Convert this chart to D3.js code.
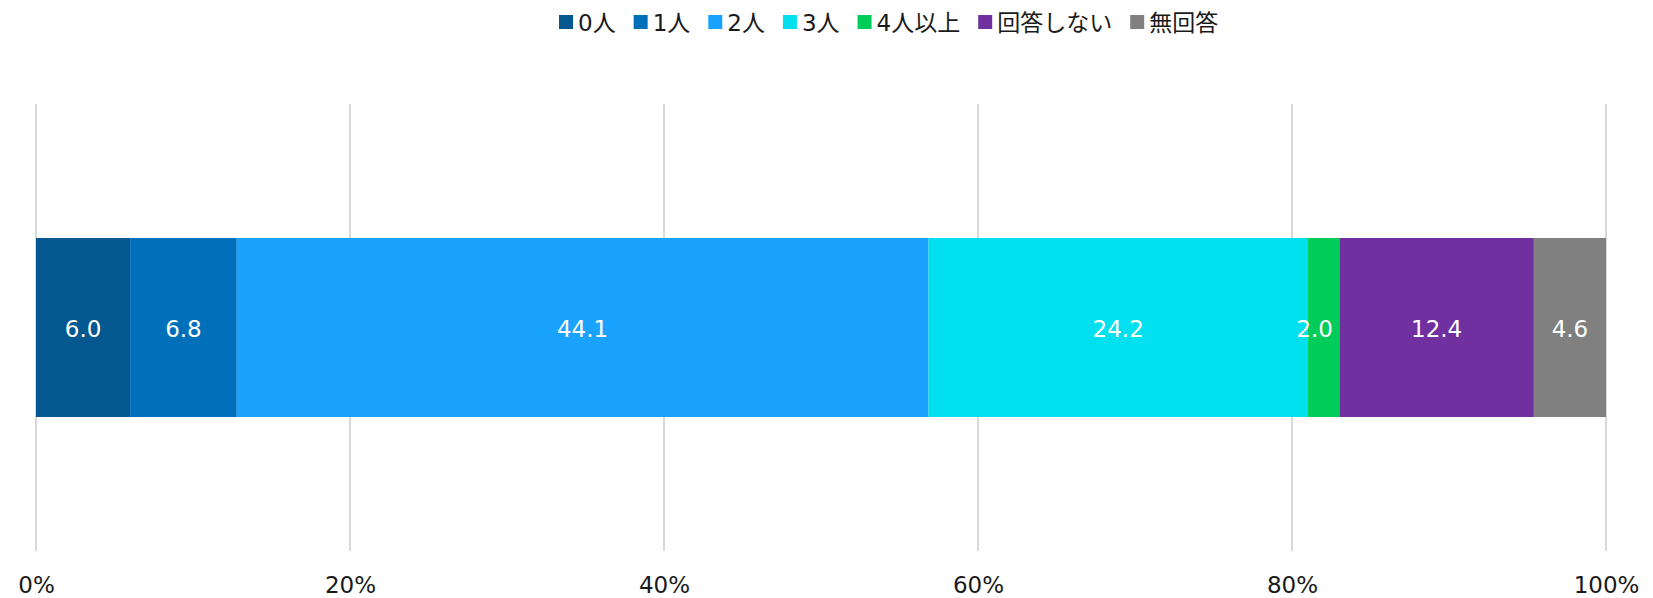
<!DOCTYPE html>
<html>
<head>
<meta charset="utf-8">
<script src="https://cdn.jsdelivr.net/npm/d3@7"></script>
<style>
  html, body { margin: 0; padding: 0; background: #ffffff; }
  svg { display: block; }
  text { font-family: "DejaVu Sans", "Noto Sans CJK JP", sans-serif; }
</style>
</head>
<body>
<svg id="chart" width="1653" height="598"></svg>
<script>
// ---- data ----
const categories = ["0人", "1人", "2人", "3人", "4人以上", "回答しない", "無回答"];
const values = [6.0, 6.8, 44.1, 24.2, 2.0, 12.4, 4.6];
const colors = ["#03598f", "#0070bb", "#1aa3fe", "#00e0ef", "#00cc5a", "#7030a0", "#808080"];
const tickValues = [0, 0.2, 0.4, 0.6, 0.8, 1.0];
const tickLabels = ["0%", "20%", "40%", "60%", "80%", "100%"];

// ---- layout ----
const svg = d3.select("#chart");
const W = 1653, H = 598;
const margin = { left: 36, right: 47, top: 104, bottom: 47 };
const plotW = W - margin.left - margin.right;
const barTop = 238, barBottom = 417;

const total = d3.sum(values);
let cum = 0;
const segs = values.map((v, i) => {
  const s = { cat: categories[i], v, start: cum / total, end: (cum + v) / total, color: colors[i] };
  cum += v;
  return s;
});

const x = d3.scaleLinear().domain([0, 1]).range([margin.left, margin.left + plotW]);

// gridlines
svg.append("g").selectAll("line").data(tickValues).join("line")
  .attr("x1", d => x(d)).attr("x2", d => x(d))
  .attr("y1", 104).attr("y2", 551)
  .attr("stroke", "#d9d9d9").attr("stroke-width", 2);

// bars
svg.append("g").selectAll("rect").data(segs).join("rect")
  .attr("x", d => x(d.start))
  .attr("width", d => x(d.end) - x(d.start))
  .attr("y", barTop)
  .attr("height", barBottom - barTop)
  .attr("fill", d => d.color);

// data labels
svg.append("g").selectAll("text").data(segs).join("text")
  .attr("x", d => (x(d.start) + x(d.end)) / 2 + ((x(d.end) - x(d.start)) < 40 ? -9 : 0))
  .attr("y", (barTop + barBottom) / 2 + 9)
  .attr("text-anchor", "middle")
  .attr("fill", "#ffffff")
  .attr("font-size", 23)
  .text(d => d.v.toFixed(1));

// axis labels
const axis = d3.axisBottom(x).tickValues(tickValues)
  .tickFormat((d, i) => tickLabels[i]).tickSize(0).tickPadding(0);
const ag = svg.append("g").attr("transform", `translate(0, 593)`).call(axis);
ag.select(".domain").remove();
ag.selectAll("text")
  .attr("dy", 0)
  .attr("y", 0)
  .attr("font-size", 23)
  .attr("fill", "#1a1a1a")
  .style("font-family", '"DejaVu Sans", sans-serif');

// legend
const lg = svg.append("g");
let lx = 559;
categories.forEach((c, i) => {
  lg.append("rect").attr("x", lx).attr("y", 15).attr("width", 14).attr("height", 14).attr("fill", colors[i]);
  const t = lg.append("text").attr("x", lx + 19).attr("y", 30.5)
    .attr("font-size", 23).attr("fill", "#1a1a1a").text(c);
  const w = t.node().getComputedTextLength();
  lx = lx + 19 + w + 18;
});
</script>
</body>
</html>
